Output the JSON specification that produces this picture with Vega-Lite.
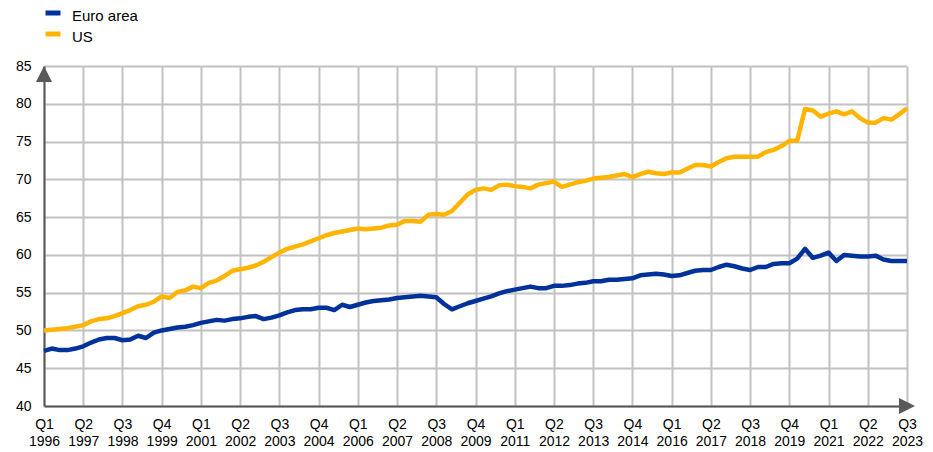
{
  "$schema": "https://vega.github.io/schema/vega-lite/v6.json",
  "width": 863,
  "height": 340,
  "autosize": {"type": "none"},
  "padding": {"left": 44, "top": 66, "right": 26, "bottom": 46},
  "background": "#ffffff",
  "config": {
    "view": {"stroke": null},
    "font": "Liberation Sans",
    "axis": {"labelFont": "Liberation Sans", "labelFontSize": 14, "labelColor": "#000000", "gridColor": "#c2c2c2", "gridWidth": 2, "domainColor": "#595959", "domainWidth": 2, "ticks": false},
    "axisY": {"labelPadding": 13, "labelOverlap": false, "labelFlush": false, "labelBound": false},
    "legend": {"labelFont": "Liberation Sans"}
  },
  "data": {
    "values": [
      {"q": "Q1 1996", "Euro area": 47.3, "US": 50.0},
      {"q": "Q2 1996", "Euro area": 47.6, "US": 50.1},
      {"q": "Q3 1996", "Euro area": 47.4, "US": 50.2},
      {"q": "Q4 1996", "Euro area": 47.4, "US": 50.3},
      {"q": "Q1 1997", "Euro area": 47.6, "US": 50.5},
      {"q": "Q2 1997", "Euro area": 47.9, "US": 50.7},
      {"q": "Q3 1997", "Euro area": 48.4, "US": 51.2},
      {"q": "Q4 1997", "Euro area": 48.8, "US": 51.5},
      {"q": "Q1 1998", "Euro area": 49.0, "US": 51.6},
      {"q": "Q2 1998", "Euro area": 49.0, "US": 51.9},
      {"q": "Q3 1998", "Euro area": 48.7, "US": 52.3},
      {"q": "Q4 1998", "Euro area": 48.8, "US": 52.7},
      {"q": "Q1 1999", "Euro area": 49.3, "US": 53.2},
      {"q": "Q2 1999", "Euro area": 49.0, "US": 53.4},
      {"q": "Q3 1999", "Euro area": 49.7, "US": 53.8},
      {"q": "Q4 1999", "Euro area": 50.0, "US": 54.5},
      {"q": "Q1 2000", "Euro area": 50.2, "US": 54.3},
      {"q": "Q2 2000", "Euro area": 50.4, "US": 55.1},
      {"q": "Q3 2000", "Euro area": 50.5, "US": 55.3},
      {"q": "Q4 2000", "Euro area": 50.7, "US": 55.8},
      {"q": "Q1 2001", "Euro area": 51.0, "US": 55.6},
      {"q": "Q2 2001", "Euro area": 51.2, "US": 56.3},
      {"q": "Q3 2001", "Euro area": 51.4, "US": 56.6},
      {"q": "Q4 2001", "Euro area": 51.3, "US": 57.2},
      {"q": "Q1 2002", "Euro area": 51.5, "US": 57.9},
      {"q": "Q2 2002", "Euro area": 51.6, "US": 58.1},
      {"q": "Q3 2002", "Euro area": 51.8, "US": 58.3},
      {"q": "Q4 2002", "Euro area": 51.9, "US": 58.6},
      {"q": "Q1 2003", "Euro area": 51.5, "US": 59.1},
      {"q": "Q2 2003", "Euro area": 51.7, "US": 59.7},
      {"q": "Q3 2003", "Euro area": 52.0, "US": 60.3},
      {"q": "Q4 2003", "Euro area": 52.4, "US": 60.8},
      {"q": "Q1 2004", "Euro area": 52.7, "US": 61.1},
      {"q": "Q2 2004", "Euro area": 52.8, "US": 61.4},
      {"q": "Q3 2004", "Euro area": 52.8, "US": 61.8},
      {"q": "Q4 2004", "Euro area": 53.0, "US": 62.2},
      {"q": "Q1 2005", "Euro area": 53.0, "US": 62.6},
      {"q": "Q2 2005", "Euro area": 52.7, "US": 62.9},
      {"q": "Q3 2005", "Euro area": 53.4, "US": 63.1},
      {"q": "Q4 2005", "Euro area": 53.1, "US": 63.3},
      {"q": "Q1 2006", "Euro area": 53.4, "US": 63.5},
      {"q": "Q2 2006", "Euro area": 53.7, "US": 63.4},
      {"q": "Q3 2006", "Euro area": 53.9, "US": 63.5},
      {"q": "Q4 2006", "Euro area": 54.0, "US": 63.6},
      {"q": "Q1 2007", "Euro area": 54.1, "US": 63.9},
      {"q": "Q2 2007", "Euro area": 54.3, "US": 64.0},
      {"q": "Q3 2007", "Euro area": 54.4, "US": 64.5},
      {"q": "Q4 2007", "Euro area": 54.5, "US": 64.5},
      {"q": "Q1 2008", "Euro area": 54.6, "US": 64.4},
      {"q": "Q2 2008", "Euro area": 54.5, "US": 65.3},
      {"q": "Q3 2008", "Euro area": 54.4, "US": 65.4},
      {"q": "Q4 2008", "Euro area": 53.5, "US": 65.3},
      {"q": "Q1 2009", "Euro area": 52.8, "US": 65.8},
      {"q": "Q2 2009", "Euro area": 53.2, "US": 66.9},
      {"q": "Q3 2009", "Euro area": 53.6, "US": 68.0},
      {"q": "Q4 2009", "Euro area": 53.9, "US": 68.6},
      {"q": "Q1 2010", "Euro area": 54.2, "US": 68.8},
      {"q": "Q2 2010", "Euro area": 54.5, "US": 68.6},
      {"q": "Q3 2010", "Euro area": 54.9, "US": 69.2},
      {"q": "Q4 2010", "Euro area": 55.2, "US": 69.3},
      {"q": "Q1 2011", "Euro area": 55.4, "US": 69.1},
      {"q": "Q2 2011", "Euro area": 55.6, "US": 69.0},
      {"q": "Q3 2011", "Euro area": 55.8, "US": 68.8},
      {"q": "Q4 2011", "Euro area": 55.6, "US": 69.3},
      {"q": "Q1 2012", "Euro area": 55.6, "US": 69.5},
      {"q": "Q2 2012", "Euro area": 55.9, "US": 69.7},
      {"q": "Q3 2012", "Euro area": 55.9, "US": 69.0},
      {"q": "Q4 2012", "Euro area": 56.0, "US": 69.3},
      {"q": "Q1 2013", "Euro area": 56.2, "US": 69.6},
      {"q": "Q2 2013", "Euro area": 56.3, "US": 69.8},
      {"q": "Q3 2013", "Euro area": 56.5, "US": 70.1},
      {"q": "Q4 2013", "Euro area": 56.5, "US": 70.2},
      {"q": "Q1 2014", "Euro area": 56.7, "US": 70.3},
      {"q": "Q2 2014", "Euro area": 56.7, "US": 70.5},
      {"q": "Q3 2014", "Euro area": 56.8, "US": 70.7},
      {"q": "Q4 2014", "Euro area": 56.9, "US": 70.3},
      {"q": "Q1 2015", "Euro area": 57.3, "US": 70.7},
      {"q": "Q2 2015", "Euro area": 57.4, "US": 71.0},
      {"q": "Q3 2015", "Euro area": 57.5, "US": 70.8},
      {"q": "Q4 2015", "Euro area": 57.4, "US": 70.7},
      {"q": "Q1 2016", "Euro area": 57.2, "US": 70.9},
      {"q": "Q2 2016", "Euro area": 57.3, "US": 70.9},
      {"q": "Q3 2016", "Euro area": 57.6, "US": 71.4},
      {"q": "Q4 2016", "Euro area": 57.9, "US": 71.9},
      {"q": "Q1 2017", "Euro area": 58.0, "US": 71.9},
      {"q": "Q2 2017", "Euro area": 58.0, "US": 71.7},
      {"q": "Q3 2017", "Euro area": 58.4, "US": 72.3},
      {"q": "Q4 2017", "Euro area": 58.7, "US": 72.8},
      {"q": "Q1 2018", "Euro area": 58.5, "US": 73.0},
      {"q": "Q2 2018", "Euro area": 58.2, "US": 73.0},
      {"q": "Q3 2018", "Euro area": 58.0, "US": 73.0},
      {"q": "Q4 2018", "Euro area": 58.4, "US": 73.0},
      {"q": "Q1 2019", "Euro area": 58.4, "US": 73.6},
      {"q": "Q2 2019", "Euro area": 58.8, "US": 73.9},
      {"q": "Q3 2019", "Euro area": 58.9, "US": 74.4},
      {"q": "Q4 2019", "Euro area": 58.9, "US": 75.1},
      {"q": "Q1 2020", "Euro area": 59.5, "US": 75.1},
      {"q": "Q2 2020", "Euro area": 60.8, "US": 79.3},
      {"q": "Q3 2020", "Euro area": 59.6, "US": 79.1},
      {"q": "Q4 2020", "Euro area": 59.9, "US": 78.3},
      {"q": "Q1 2021", "Euro area": 60.3, "US": 78.7},
      {"q": "Q2 2021", "Euro area": 59.2, "US": 79.0},
      {"q": "Q3 2021", "Euro area": 60.0, "US": 78.6},
      {"q": "Q4 2021", "Euro area": 59.9, "US": 79.0},
      {"q": "Q1 2022", "Euro area": 59.8, "US": 78.1},
      {"q": "Q2 2022", "Euro area": 59.8, "US": 77.5},
      {"q": "Q3 2022", "Euro area": 59.9, "US": 77.5},
      {"q": "Q4 2022", "Euro area": 59.4, "US": 78.1},
      {"q": "Q1 2023", "Euro area": 59.2, "US": 77.9},
      {"q": "Q2 2023", "Euro area": 59.2, "US": 78.6},
      {"q": "Q3 2023", "Euro area": 59.2, "US": 79.4}
    ]
  },
  "layer": [
    {
      "transform": [{"fold": ["Euro area", "US"], "as": ["series", "value"]}],
      "mark": {"type": "line", "strokeWidth": 4.5, "strokeJoin": "round", "strokeCap": "butt"},
      "encoding": {
        "x": {
          "field": "q",
          "type": "ordinal",
          "sort": null,
          "scale": {"type": "point", "padding": 0},
          "axis": {
            "title": null,
            "values": ["Q1 1996", "Q2 1997", "Q3 1998", "Q4 1999", "Q1 2001", "Q2 2002", "Q3 2003", "Q4 2004", "Q1 2006", "Q2 2007", "Q3 2008", "Q4 2009", "Q1 2011", "Q2 2012", "Q3 2013", "Q4 2014", "Q1 2016", "Q2 2017", "Q3 2018", "Q4 2019", "Q1 2021", "Q2 2022", "Q3 2023"],
            "labelExpr": "split(datum.label, ' ')",
            "labelAngle": 0,
            "labelAlign": "center",
            "labelBaseline": "top",
            "labelPadding": 11,
            "labelLineHeight": 17,
            "labelOverlap": false,
            "labelFlush": false,
            "grid": true
          }
        },
        "y": {
          "field": "value",
          "type": "quantitative",
          "scale": {"domain": [40, 85], "nice": false, "zero": false},
          "axis": {
            "title": null,
            "values": [40, 45, 50, 55, 60, 65, 70, 75, 80, 85],
            "grid": true
          }
        },
        "color": {
          "field": "series",
          "type": "nominal",
          "scale": {"domain": ["Euro area", "US"], "range": ["#003299", "#ffb400"]},
          "legend": {
            "title": null,
            "orient": "none",
            "legendX": -1,
            "legendY": -60,
            "padding": 0,
            "direction": "vertical",
            "symbolType": "M-1,-0.4H1",
            "symbolSize": 225,
            "symbolStrokeWidth": 5,
            "labelFontSize": 15,
            "labelOffset": 9,
            "labelColor": "#000000",
            "rowPadding": 0
          }
        }
      }
    },
    {
      "transform": [{"filter": "datum.q == 'Q1 1996'"}],
      "mark": {"type": "point", "shape": "M0,-1L1,1L-1,1Z", "filled": true, "size": 256, "color": "#595959", "opacity": 1},
      "encoding": {
        "x": {
          "field": "q",
          "type": "ordinal",
          "sort": null,
          "axis": {
            "title": null,
            "values": ["Q1 1996", "Q2 1997", "Q3 1998", "Q4 1999", "Q1 2001", "Q2 2002", "Q3 2003", "Q4 2004", "Q1 2006", "Q2 2007", "Q3 2008", "Q4 2009", "Q1 2011", "Q2 2012", "Q3 2013", "Q4 2014", "Q1 2016", "Q2 2017", "Q3 2018", "Q4 2019", "Q1 2021", "Q2 2022", "Q3 2023"],
            "labelExpr": "split(datum.label, ' ')",
            "labelAngle": 0,
            "labelAlign": "center",
            "labelBaseline": "top",
            "labelPadding": 11,
            "labelLineHeight": 17,
            "labelOverlap": false,
            "labelFlush": false,
            "grid": true
          }
        },
        "y": {
          "datum": 83.95,
          "type": "quantitative",
          "axis": {
            "title": null,
            "values": [40, 45, 50, 55, 60, 65, 70, 75, 80, 85],
            "grid": true
          }
        }
      }
    },
    {
      "transform": [{"filter": "datum.q == 'Q3 2023'"}],
      "mark": {"type": "point", "shape": "M1,0L-1,1L-1,-1Z", "filled": true, "size": 256, "color": "#595959", "opacity": 1},
      "encoding": {
        "x": {
          "field": "q",
          "type": "ordinal",
          "sort": null,
          "axis": {
            "title": null,
            "values": ["Q1 1996", "Q2 1997", "Q3 1998", "Q4 1999", "Q1 2001", "Q2 2002", "Q3 2003", "Q4 2004", "Q1 2006", "Q2 2007", "Q3 2008", "Q4 2009", "Q1 2011", "Q2 2012", "Q3 2013", "Q4 2014", "Q1 2016", "Q2 2017", "Q3 2018", "Q4 2019", "Q1 2021", "Q2 2022", "Q3 2023"],
            "labelExpr": "split(datum.label, ' ')",
            "labelAngle": 0,
            "labelAlign": "center",
            "labelBaseline": "top",
            "labelPadding": 11,
            "labelLineHeight": 17,
            "labelOverlap": false,
            "labelFlush": false,
            "grid": true
          }
        },
        "y": {
          "datum": 40,
          "type": "quantitative",
          "axis": {
            "title": null,
            "values": [40, 45, 50, 55, 60, 65, 70, 75, 80, 85],
            "grid": true
          }
        }
      }
    }
  ]
}
